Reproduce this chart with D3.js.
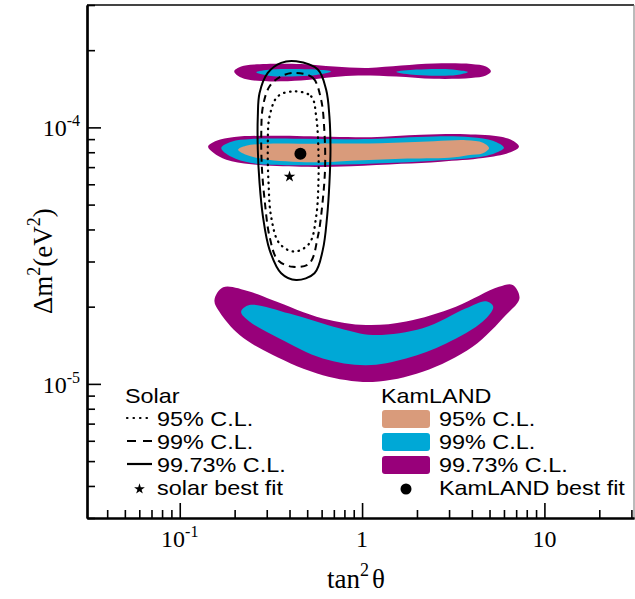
<!DOCTYPE html>
<html><head><meta charset="utf-8">
<script src="https://cdn.jsdelivr.net/npm/d3@7"></script>
<style>body{margin:0;background:#fff}</style>
</head><body>
<svg id="chart" width="635" height="599"></svg>
<script>
// ---- axes ----
const xDomain = [0.031, 31];
const yDomain = [3e-6, 3e-4];
const xMajor = [0.1, 1, 10];
const xMajorLabels = [["10","-1"], ["1",""], ["10",""]];
const yMajor = [1e-5, 1e-4];
const yMajorLabels = [["10","-5"], ["10","-4"]];
const xTitle = ["tan", "2", "θ"];
const yTitle = ["Δm", "2", "(eV", "2", ")"];

// ---- KamLAND allowed regions [tan2θ, Δm2] ----
const kam9973Top = [[0.199,1.654e-4],[0.217,1.726e-4],[0.256,1.758e-4],[0.463,1.766e-4],[0.703,1.726e-4],[1.08,1.706e-4],[1.64,1.742e-4],[2.48,1.774e-4],[3.96,1.766e-4],[4.78,1.726e-4],[5.09,1.654e-4],[4.78,1.592e-4],[3.96,1.557e-4],[2.48,1.546e-4],[1.54,1.578e-4],[0.951,1.592e-4],[0.703,1.571e-4],[0.463,1.522e-4],[0.280,1.515e-4],[0.217,1.564e-4]];
const kam99TopA = [[0.263,1.64e-4],[0.317,1.68e-4],[0.408,1.69e-4],[0.56,1.68e-4],[0.676,1.65e-4],[0.56,1.60e-4],[0.408,1.58e-4],[0.317,1.585e-4]];
const kam99TopB = [[1.54,1.645e-4],[1.98,1.68e-4],[2.71,1.69e-4],[3.3,1.675e-4],[3.81,1.645e-4],[3.3,1.60e-4],[2.71,1.59e-4],[1.98,1.60e-4]];

const kam9973Mid = [[0.143,8.41e-5],[0.159,8.87e-5],[0.199,9.17e-5],[0.317,9.28e-5],[0.676,9.20e-5],[1.12,9.16e-5],[2.11,9.37e-5],[3.72,9.41e-5],[5.78,9.20e-5],[6.72,8.87e-5],[7.25,8.41e-5],[6.39,7.96e-5],[4.60,7.59e-5],[2.71,7.35e-5],[1.64,7.21e-5],[0.870,7.05e-5],[0.463,7.02e-5],[0.247,7.18e-5],[0.180,7.48e-5],[0.153,7.96e-5]];
const kam99Mid = [[0.169,8.31e-5],[0.192,8.79e-5],[0.247,9.01e-5],[0.463,9.03e-5],[0.870,8.99e-5],[1.64,9.12e-5],[2.48,9.22e-5],[3.96,9.16e-5],[5.22,8.87e-5],[6.00,8.33e-5],[5.42,7.96e-5],[4.60,7.70e-5],[2.48,7.41e-5],[1.27,7.25e-5],[0.70,7.15e-5],[0.408,7.12e-5],[0.247,7.26e-5],[0.192,7.68e-5]];
const kam95Mid = [[0.209,8.18e-5],[0.231,8.48e-5],[0.306,8.64e-5],[0.463,8.64e-5],[0.70,8.66e-5],[1.27,8.68e-5],[2.48,8.83e-5],[3.72,8.91e-5],[4.60,8.72e-5],[4.97,8.31e-5],[4.60,7.93e-5],[3.81,7.79e-5],[3.00,7.61e-5],[1.64,7.55e-5],[0.870,7.41e-5],[0.574,7.31e-5],[0.306,7.48e-5],[0.231,7.82e-5]];

const kam9973Low = [[0.155,2.12e-5],[0.173,2.38e-5],[0.241,2.29e-5],[0.324,2.12e-5],[0.609,1.80e-5],[1.052,1.696e-5],[1.742,1.75e-5],[3.27,2.00e-5],[5.63,2.39e-5],[6.70,2.43e-5],[7.30,2.157e-5],[6.15,1.855e-5],[4.04,1.395e-5],[2.15,1.114e-5],[1.144,1.018e-5],[0.609,1.081e-5],[0.324,1.295e-5],[0.213,1.55e-5],[0.165,1.91e-5]];
const kam99Low = [[0.217,1.91e-5],[0.241,2.03e-5],[0.400,1.88e-5],[0.751,1.646e-5],[1.144,1.55e-5],[2.15,1.646e-5],[3.72,1.97e-5],[4.78,2.10e-5],[5.24,2.00e-5],[4.59,1.75e-5],[2.89,1.438e-5],[1.742,1.257e-5],[1.052,1.183e-5],[0.609,1.257e-5],[0.352,1.504e-5],[0.241,1.75e-5]];

// ---- Solar allowed regions ----
const solar9973 = [[0.435,1.81e-4],[0.572,1.68e-4],[0.635,1.404e-4],[0.662,1.104e-4],[0.671,8.18e-5],[0.662,6.06e-5],[0.643,4.49e-5],[0.609,3.33e-5],[0.548,2.70e-5],[0.435,2.54e-5],[0.360,2.70e-5],[0.311,3.33e-5],[0.286,4.49e-5],[0.274,6.06e-5],[0.268,8.18e-5],[0.268,1.104e-4],[0.274,1.362e-4],[0.304,1.631e-4],[0.360,1.785e-4]];
const solar99 = [[0.435,1.631e-4],[0.537,1.56e-4],[0.596,1.283e-4],[0.622,9.51e-5],[0.627,7.04e-5],[0.609,5.22e-5],[0.572,3.75e-5],[0.514,2.95e-5],[0.417,2.86e-5],[0.345,3.04e-5],[0.311,3.75e-5],[0.292,5.22e-5],[0.282,7.04e-5],[0.280,9.51e-5],[0.286,1.208e-4],[0.311,1.446e-4],[0.360,1.582e-4]];
const solar95 = [[0.426,1.382e-4],[0.526,1.321e-4],[0.560,1.104e-4],[0.576,8.18e-5],[0.576,6.06e-5],[0.560,4.49e-5],[0.514,3.53e-5],[0.426,3.28e-5],[0.352,3.53e-5],[0.317,4.49e-5],[0.307,6.06e-5],[0.304,8.18e-5],[0.311,1.104e-4],[0.345,1.321e-4]];

const solarBest = [0.40, 6.43e-5];
const kamBest = [0.459, 7.89e-5];

// ---- legend ----
const solarLegendTitle = "Solar";
const solarLegendLabels = ["95% C.L.", "99% C.L.", "99.73% C.L.", "solar best fit"];
const kamLegendTitle = "KamLAND";
const kamLegendLabels = ["95% C.L.", "99% C.L.", "99.73% C.L.", "KamLAND best fit"];

const C95 = "#d99b7b", C99 = "#00a8d6", C9973 = "#98007a";

const svg = d3.select("#chart");
const x = d3.scaleLog().domain(xDomain).range([87, 634]);
const y = d3.scaleLog().domain(yDomain).range([518, 5]);
const closed = d3.line().x(d => x(d[0])).y(d => y(d[1])).curve(d3.curveCatmullRomClosed.alpha(0.5));

const fills = [
  [kam9973Top, C9973], [kam99TopA, C99], [kam99TopB, C99],
  [kam9973Mid, C9973], [kam99Mid, C99], [kam95Mid, C95],
  [kam9973Low, C9973], [kam99Low, C99]
];
svg.append("g").selectAll("path").data(fills).join("path")
  .attr("d", d => closed(d[0])).attr("fill", d => d[1]).attr("stroke", "none");

const solars = [[solar9973, null, "butt", 2], [solar99, "7,5", "butt", 2], [solar95, "0.5,5.5", "round", 2.3]];
svg.append("g").selectAll("path").data(solars).join("path")
  .attr("d", d => closed(d[0])).attr("fill", "none").attr("stroke", "#000")
  .attr("stroke-width", d => d[3]).attr("stroke-linecap", d => d[2])
  .attr("stroke-dasharray", d => d[1]);

svg.append("path").attr("d", d3.symbol(d3.symbolStar, 42)())
  .attr("transform", `translate(${x(solarBest[0])},${y(solarBest[1])})`).attr("fill", "#000");
svg.append("circle").attr("cx", x(kamBest[0])).attr("cy", y(kamBest[1])).attr("r", 6).attr("fill", "#000");

// frame
svg.append("line").attr("x1", 87).attr("x2", 634).attr("y1", 5).attr("y2", 5).attr("stroke", "#444").attr("stroke-width", 2);
svg.append("line").attr("x1", 634).attr("x2", 634).attr("y1", 5).attr("y2", 518).attr("stroke", "#777").attr("stroke-width", 1);

// axes
const xMinor = x.ticks().filter(v => !xMajor.some(m => Math.abs(m - v) / m < 1e-6));
const yMinor = y.ticks().filter(v => !yMajor.some(m => Math.abs(m - v) / m < 1e-6));
function styleAxis(g) {
  g.select(".domain").attr("stroke", "#000").attr("stroke-width", 2.2);
  g.selectAll(".tick line").attr("stroke", "#000").attr("stroke-width", 1.6);
}
svg.append("g").attr("transform", "translate(0,518)")
  .call(d3.axisBottom(x).tickValues(xMinor).tickSize(-8).tickSizeOuter(0).tickFormat(""))
  .call(styleAxis);
svg.append("g").attr("transform", "translate(0,518)")
  .call(d3.axisBottom(x).tickValues(xMajor).tickSize(-15).tickSizeOuter(0).tickFormat(""))
  .call(styleAxis);
svg.append("g").attr("transform", "translate(87,0)")
  .call(d3.axisLeft(y).tickValues(yMinor).tickSize(-8).tickSizeOuter(0).tickFormat(""))
  .call(styleAxis);
svg.append("g").attr("transform", "translate(87,0)")
  .call(d3.axisLeft(y).tickValues(yMajor).tickSize(-14).tickSizeOuter(0).tickFormat(""))
  .call(styleAxis);

const serif = "'Liberation Serif','Times New Roman',serif";
const sans = "'Liberation Sans',Arial,Helvetica,sans-serif";

xMajor.forEach((v, i) => {
  const t = svg.append("text").attr("x", x(v)).attr("y", 547).attr("text-anchor", "middle")
    .attr("font-family", serif).attr("font-size", 24).attr("fill", "#000");
  t.append("tspan").text(xMajorLabels[i][0]);
  if (xMajorLabels[i][1]) t.append("tspan").attr("dy", -10).attr("font-size", 16).text(xMajorLabels[i][1]);
});
yMajor.forEach((v, i) => {
  const t = svg.append("text").attr("x", 80).attr("y", y(v) + 9).attr("text-anchor", "end")
    .attr("font-family", serif).attr("font-size", 24).attr("fill", "#000");
  t.append("tspan").text(yMajorLabels[i][0]);
  t.append("tspan").attr("dy", -10).attr("font-size", 16).text(yMajorLabels[i][1]);
});

// axis titles
const xt = svg.append("text").attr("x", 327).attr("y", 588).attr("text-anchor", "start")
  .attr("font-family", serif).attr("font-size", 27).attr("fill", "#000");
xt.append("tspan").text(xTitle[0]);
xt.append("tspan").attr("dy", -12).attr("font-size", 18).text(xTitle[1]);
xt.append("tspan").attr("dy", 12).attr("dx", 3).text(xTitle[2]);

const yt = svg.append("text").attr("transform", "translate(52,314) rotate(-90)").attr("text-anchor", "start")
  .attr("font-family", serif).attr("font-size", 27).attr("fill", "#000");
yt.append("tspan").text(yTitle[0]);
yt.append("tspan").attr("dy", -12).attr("font-size", 18).text(yTitle[1]);
yt.append("tspan").attr("dy", 12).text(yTitle[2]);
yt.append("tspan").attr("dy", -12).attr("font-size", 18).text(yTitle[3]);
yt.append("tspan").attr("dy", 12).text(yTitle[4]);

// legends (20px type stretched horizontally to the reference width)
const baselines = [426, 449, 472, 495];
function legendText(px, py, s) {
  svg.append("text").attr("transform", `translate(${px},${py}) scale(1.17,1)`)
    .attr("font-family", sans).attr("font-size", 20).attr("fill", "#000").text(s);
}
legendText(125, 403, solarLegendTitle);
solarLegendLabels.forEach((s, i) => legendText(157, baselines[i], s));
const dashes = [["0.5,6", "round"], ["9,7", "butt"], [null, "butt"]];
dashes.forEach((da, i) => {
  svg.append("line").attr("x1", 127).attr("x2", 152).attr("y1", baselines[i] - 8).attr("y2", baselines[i] - 8)
    .attr("stroke", "#000").attr("stroke-width", 2.2).attr("stroke-dasharray", da[0])
    .attr("stroke-linecap", da[1]);
});
svg.append("path").attr("d", d3.symbol(d3.symbolStar, 36)()).attr("transform", `translate(139.5,${baselines[3] - 6})`).attr("fill", "#000");

legendText(381, 403, kamLegendTitle);
kamLegendLabels.forEach((s, i) => legendText(439, baselines[i], s));
[C95, C99, C9973].forEach((c, i) => {
  svg.append("rect").attr("x", 382).attr("y", baselines[i] - 16).attr("width", 48).attr("height", 18)
    .attr("rx", 3).attr("fill", c);
});
svg.append("circle").attr("cx", 406).attr("cy", baselines[3] - 6).attr("r", 5.5).attr("fill", "#000");
</script>
</body></html>
